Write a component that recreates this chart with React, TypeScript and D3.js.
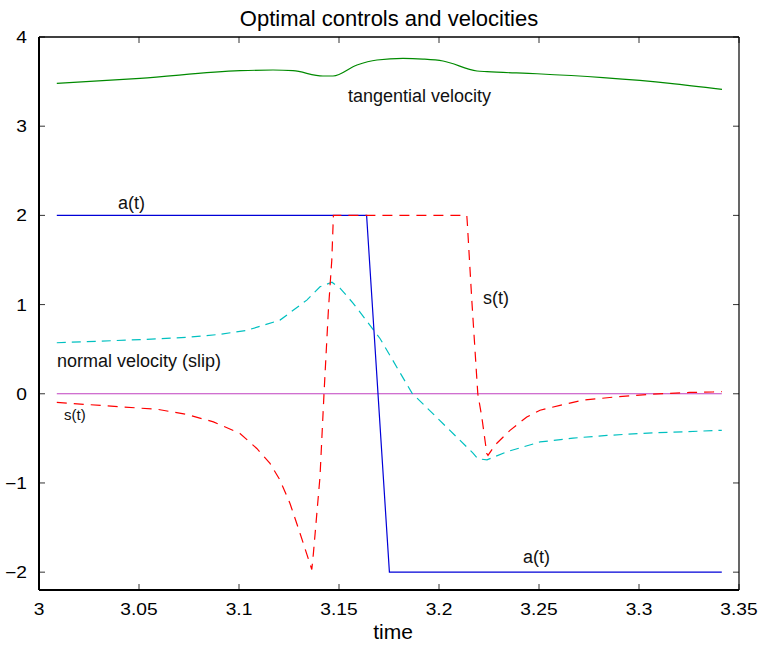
import React from "react";
import * as d3 from "d3";

const xTicks = [3, 3.05, 3.1, 3.15, 3.2, 3.25, 3.3, 3.35];
const xTickLabels = ["3", "3.05", "3.1", "3.15", "3.2", "3.25", "3.3", "3.35"];
const yTicks = [-2, -1, 0, 1, 2, 3, 4];
const yTickLabels = ["\u22122", "\u22121", "0", "1", "2", "3", "4"];

// tangential velocity (green)
const greenT = [3.0089, 3.0505, 3.1005, 3.117, 3.127, 3.142, 3.147, 3.159, 3.169, 3.182, 3.192, 3.202, 3.219, 3.224, 3.249, 3.282, 3.3155, 3.3415];
const greenV = [3.481, 3.537, 3.622, 3.63, 3.622, 3.563, 3.563, 3.686, 3.742, 3.761, 3.753, 3.731, 3.619, 3.611, 3.588, 3.544, 3.481, 3.413];

// normal velocity (slip) (cyan dashed)
const cyanT = [3.0089, 3.0305, 3.0505, 3.0739, 3.09, 3.1039, 3.1205, 3.1339, 3.1405, 3.1465, 3.1505, 3.157, 3.1705, 3.1865, 3.217, 3.2195, 3.224, 3.2339, 3.2505, 3.267, 3.284, 3.3005, 3.317, 3.3414];
const cyanV = [0.572, 0.59, 0.607, 0.632, 0.665, 0.711, 0.826, 1.05, 1.2, 1.25, 1.185, 1.017, 0.62, 0.007, -0.665, -0.73, -0.74, -0.65, -0.54, -0.497, -0.467, -0.445, -0.43, -0.41];

// s(t) (red dashed)
const redT = [3.0089, 3.0595, 3.0739, 3.0872, 3.1005, 3.1089, 3.1155, 3.1205, 3.1255, 3.1305, 3.1364, 3.1372, 3.1405, 3.1425, 3.1447, 3.1464, 3.1472, 3.2139, 3.2142, 3.2164, 3.218, 3.2194, 3.2214, 3.2239, 3.2245, 3.228, 3.2355, 3.2439, 3.2505, 3.2605, 3.272, 3.2889, 3.307, 3.3255, 3.337, 3.3414];
const redV = [-0.097, -0.175, -0.232, -0.315, -0.445, -0.613, -0.78, -0.968, -1.23, -1.563, -1.97, -1.79, -0.93, 0.0, 0.94, 1.5, 2, 2, 1.9, 1.05, 0.49, 0.0, -0.26, -0.67, -0.69, -0.575, -0.41, -0.26, -0.185, -0.13, -0.071, -0.034, -0.004, 0.015, 0.02, 0.025];

// a(t) (blue)
const blueT = [3.0089, 3.1638, 3.1752, 3.3414];
const blueV = [2, 2, -2, -2];

// zero line (magenta)
const zeroT = [3.0089, 3.3414];
const zeroV = [0, 0];

const W = 763, H = 645;
const L = 39, R = 739, T = 37, B = 590;

export default function App() {
  const x = d3.scaleLinear().domain([3, 3.35]).range([L, R]);
  const y = d3.scaleLinear().domain([-2.2, 4]).range([B, T]);
  const lin = d3.line<[number, number]>().x(d => x(d[0])).y(d => y(d[1]));
  const smooth = d3.line<[number, number]>().x(d => x(d[0])).y(d => y(d[1])).curve(d3.curveMonotoneX);
  const zip = (a: number[], b: number[]) => a.map((v, i) => [v, b[i]] as [number, number]);
  const font = "'Liberation Sans', Arial, Helvetica, sans-serif";
  const sx = 1.2;
  return (
    <div style={{ position: "absolute", left: 0, top: 0 }}>
      <svg width={W} height={H} style={{ display: "block", background: "#fff" }} fontFamily={font}>
        <rect x={0} y={0} width={W} height={H} fill="#fff" />
        {/* series */}
        <path d={lin(zip(zeroT, zeroV)) || ""} fill="none" stroke="#c040c0" strokeWidth={1.2} />
        <path d={smooth(zip(greenT, greenV)) || ""} fill="none" stroke="#008a00" strokeWidth={1.2} />
        <path d={lin(zip(cyanT, cyanV)) || ""} fill="none" stroke="#00c0c0" strokeWidth={1.2} strokeDasharray="9,6" />
        <path d={lin(zip(blueT, blueV)) || ""} fill="none" stroke="#0000d8" strokeWidth={1.2} />
        <path d={lin(zip(redT, redV)) || ""} fill="none" stroke="#ff0000" strokeWidth={1.2} strokeDasharray="10,7" />
        {/* ticks */}
        {xTicks.map((t, i) => (
          <g key={"xt" + i}>
            <line x1={x(t)} x2={x(t)} y1={B} y2={B - 6} stroke="#333" strokeWidth={1} />
            <line x1={x(t)} x2={x(t)} y1={T} y2={T + 6} stroke="#333" strokeWidth={1} />
            <text transform={`translate(${x(t)},${615}) scale(${sx},1)`} textAnchor="middle" fontSize={16} fill="#000">{xTickLabels[i]}</text>
          </g>
        ))}
        {yTicks.map((v, i) => (
          <g key={"yt" + i}>
            <line x1={L} x2={L + 6} y1={y(v)} y2={y(v)} stroke="#333" strokeWidth={1} />
            <line x1={R} x2={R - 6} y1={y(v)} y2={y(v)} stroke="#333" strokeWidth={1} />
            <text transform={`translate(${27},${y(v) + 6}) scale(${sx},1)`} textAnchor="end" fontSize={16} fill="#000">{yTickLabels[i]}</text>
          </g>
        ))}
        {/* box */}
        <line x1={L} x2={R} y1={T} y2={T} stroke="#000" strokeWidth={1.5} />
        <line x1={R} x2={R} y1={T} y2={B} stroke="#000" strokeWidth={1.2} />
        <line x1={L} x2={L} y1={T} y2={B} stroke="#000" strokeWidth={2} />
        <line x1={L} x2={R} y1={B} y2={B} stroke="#000" strokeWidth={2} />
        {/* annotations */}
        <text x={348} y={102} fontSize={18} fill="#111">tangential velocity</text>
        <text x={118} y={209} fontSize={18} fill="#111">a(t)</text>
        <text x={57} y={367} fontSize={18} fill="#111">normal velocity (slip)</text>
        <text x={64} y={420} fontSize={15} fill="#111">s(t)</text>
        <text x={483} y={304} fontSize={18} fill="#111">s(t)</text>
        <text x={523} y={563} fontSize={18} fill="#111">a(t)</text>
        <text x={(L + R) / 2} y={26} textAnchor="middle" fontSize={22} fill="#000">Optimal controls and velocities</text>
        <text x={(L + R) / 2 + 4} y={639} textAnchor="middle" fontSize={21} fill="#000">time</text>
      </svg>
    </div>
  );
}
